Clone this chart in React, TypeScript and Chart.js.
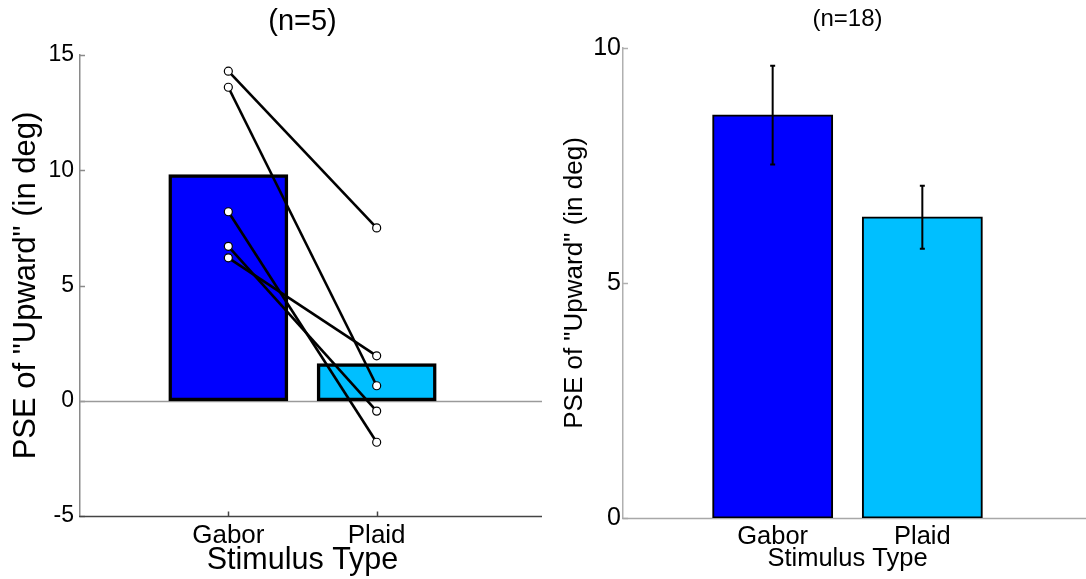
import React, { useEffect, useRef } from 'react';
import { Chart, registerables } from 'chart.js';

Chart.register(...registerables);

// ---------- data ----------
const categories = ['Gabor', 'Plaid'];
const leftTitle = '(n=5)';
const rightTitle = '(n=18)';
const yAxisTitle = 'PSE of "Upward" (in deg)';
const xAxisTitle = 'Stimulus Type';

const leftMeans = [9.8, 1.6];
const gaborSubjects = [14.3, 13.6, 8.2, 6.7, 6.2];
const plaidSubjects = [7.5, 0.65, -1.8, -0.45, 1.95];
const leftYRange = [-5, 15];
const leftYStep = 5;

const rightMeans = [8.57, 6.4];
const rightErrors = [1.05, 0.67];
const rightYRange = [0, 10];
const rightYStep = 5;

const barColors = ['#0000FF', '#00BFFF'];
const xRange = [0, 3];

const FONT = '"Liberation Sans", Arial, Helvetica, sans-serif';

// ---------- plugins ----------
function axisDecor(id: string, len: number, yColor: string, xColor: string, width: number, ext: number, zeroColor: string | null) {
  return {
    id,
    beforeDatasetsDraw(chart: any) {
      const { ctx, chartArea, scales } = chart;
      const x = scales.x;
      const y = scales.y;
      ctx.save();
      ctx.lineWidth = width;
      ctx.lineCap = 'butt';
      // inward y ticks
      ctx.strokeStyle = yColor;
      y.ticks.forEach((t: any) => {
        const py = Math.round(y.getPixelForValue(t.value)) + 0.5;
        ctx.beginPath();
        ctx.moveTo(chartArea.left, py);
        ctx.lineTo(chartArea.left + len, py);
        ctx.stroke();
      });
      // x axis line (extends slightly past the axes box) + inward x ticks
      ctx.strokeStyle = xColor;
      const by = Math.round(y.getPixelForValue(y.min)) + 0.5;
      ctx.beginPath();
      ctx.moveTo(chartArea.left - 1, by);
      ctx.lineTo(chartArea.right + ext, by);
      ctx.stroke();
      x.ticks.forEach((t: any) => {
        const px = Math.round(x.getPixelForValue(t.value)) + 0.5;
        ctx.beginPath();
        ctx.moveTo(px, by);
        ctx.lineTo(px, by - len);
        ctx.stroke();
      });
      // baseline (zero) line across the axes
      if (zeroColor) {
        const zy = Math.round(y.getPixelForValue(0)) + 0.5;
        ctx.strokeStyle = zeroColor;
        ctx.beginPath();
        ctx.moveTo(chartArea.left, zy);
        ctx.lineTo(chartArea.right + ext, zy);
        ctx.stroke();
      }
      ctx.restore();
    },
  };
}

const errorBars = {
  id: 'errorBars',
  afterDatasetsDraw(chart: any) {
    const { ctx, scales } = chart;
    const x = scales.x;
    const y = scales.y;
    ctx.save();
    ctx.strokeStyle = '#000';
    ctx.lineWidth = 2;
    rightMeans.forEach((m, i) => {
      const px = x.getPixelForValue(i + 1);
      const top = y.getPixelForValue(m + rightErrors[i]);
      const bot = y.getPixelForValue(m - rightErrors[i]);
      ctx.beginPath();
      ctx.moveTo(px, top);
      ctx.lineTo(px, bot);
      ctx.moveTo(px - 2.5, top);
      ctx.lineTo(px + 2.5, top);
      ctx.moveTo(px - 2.5, bot);
      ctx.lineTo(px + 2.5, bot);
      ctx.stroke();
    });
    ctx.restore();
  },
};

// ---------- chart builders ----------
function xScale(tickSize: number, tickPad: number, titleSize: number, titleBottomPad: number, height: number) {
  return {
    type: 'linear',
    min: xRange[0],
    max: xRange[1],
    offset: false,
    afterBuildTicks: (s: any) => {
      s.ticks = categories.map((_, i) => ({ value: i + 1 }));
    },
    afterFit: (s: any) => {
      s.height = height;
    },
    grid: { display: false, drawTicks: false, offset: false },
    border: { display: false },
    ticks: {
      autoSkip: false,
      maxRotation: 0,
      padding: tickPad,
      color: '#000',
      font: { family: FONT, size: tickSize },
      callback: (v: any) => categories[Number(v) - 1] ?? '',
    },
    title: {
      display: true,
      text: xAxisTitle,
      color: '#000',
      font: { family: FONT, size: titleSize },
      padding: { top: 0, bottom: titleBottomPad },
    },
  };
}

function yScale(range: number[], step: number, tickSize: number, tickPad: number, titleSize: number, titleTopPad: number, width: number, borderColor: string) {
  return {
    type: 'linear',
    min: range[0],
    max: range[1],
    afterFit: (s: any) => {
      s.width = width;
    },
    grid: { display: false, drawTicks: false },
    border: { display: true, color: borderColor, width: 1.5 },
    ticks: {
      stepSize: step,
      padding: tickPad,
      color: '#000',
      font: { family: FONT, size: tickSize },
    },
    title: {
      display: true,
      text: yAxisTitle,
      color: '#000',
      font: { family: FONT, size: titleSize },
      padding: { top: titleTopPad, bottom: 0 },
    },
  };
}

function LeftChart() {
  const ref = useRef<HTMLCanvasElement | null>(null);
  useEffect(() => {
    if (!ref.current) return;
    const lineSets = gaborSubjects.map((g, i) => ({
      type: 'line',
      data: [
        { x: 1, y: g },
        { x: 2, y: plaidSubjects[i] },
      ],
      borderColor: '#000',
      borderWidth: 2.6,
      pointRadius: 4,
      pointBackgroundColor: '#fff',
      pointBorderColor: '#000',
      pointBorderWidth: 1.2,
      fill: false,
      order: 0,
    }));
    const chart = new Chart(ref.current, {
      type: 'bar',
      data: {
        datasets: [
          {
            type: 'bar',
            data: leftMeans.map((m, i) => ({ x: i + 1, y: m })),
            backgroundColor: barColors,
            borderColor: '#000',
            borderWidth: 3.5,
            borderSkipped: false,
            inflateAmount: 0.6,
            categoryPercentage: 1,
            barPercentage: 0.8,
            order: 1,
          },
          ...lineSets,
        ] as any,
      },
      options: {
        responsive: false,
        animation: false,
        layout: { padding: { left: 0, right: 18, top: 0, bottom: 0 } },
        plugins: {
          legend: { display: false },
          tooltip: { enabled: false },
          title: {
            display: true,
            fullSize: false,
            text: leftTitle,
            color: '#000',
            font: { family: FONT, size: 29, weight: 'normal' },
            padding: { top: 5, bottom: 15.2 },
          },
        },
        scales: {
          x: xScale(26, 4, 30.5, 0, 63),
          y: yScale(leftYRange, leftYStep, 23, 6, 31, 7.7, 80, '#8a8a8a'),
        } as any,
      },
      plugins: [axisDecor('decorL', 5, '#8a8a8a', '#444', 1.5, 17, '#9a9a9a')],
    });
    return () => chart.destroy();
  }, []);
  return (
    <canvas
      ref={ref}
      width={543}
      height={579}
      style={{ position: 'absolute', left: 0, top: 0, width: 543, height: 579 }}
    />
  );
}

function RightChart() {
  const ref = useRef<HTMLCanvasElement | null>(null);
  useEffect(() => {
    if (!ref.current) return;
    const chart = new Chart(ref.current, {
      type: 'bar',
      data: {
        datasets: [
          {
            type: 'bar',
            data: rightMeans.map((m, i) => ({ x: i + 1, y: m })),
            backgroundColor: barColors,
            borderColor: '#000',
            borderWidth: 2,
            borderSkipped: false,
            inflateAmount: 0.6,
            categoryPercentage: 1,
            barPercentage: 0.8,
          },
        ] as any,
      },
      options: {
        responsive: false,
        animation: false,
        layout: { padding: { left: 0, right: 14, top: 0, bottom: 0 } },
        plugins: {
          legend: { display: false },
          tooltip: { enabled: false },
          title: {
            display: true,
            fullSize: false,
            text: rightTitle,
            color: '#000',
            font: { family: FONT, size: 24, weight: 'normal' },
            padding: { top: 4.6, bottom: 14.6 },
          },
        },
        scales: {
          x: xScale(25.5, 3.5, 25.5, 4.4, 61),
          y: yScale(rightYRange, rightYStep, 25, 2, 26, 16.4, 80, '#b0b0b0'),
        } as any,
      },
      plugins: [axisDecor('decorR', 5, '#b0b0b0', '#a8a8a8', 1.5, 14, null), errorBars],
    });
    return () => chart.destroy();
  }, []);
  return (
    <canvas
      ref={ref}
      width={543}
      height={579}
      style={{ position: 'absolute', left: 543, top: 0, width: 543, height: 579 }}
    />
  );
}

export default function App() {
  return (
    <div
      style={{
        position: 'fixed',
        left: 0,
        top: 0,
        width: 1086,
        height: 579,
        overflow: 'hidden',
        background: '#fff',
      }}
    >
      <LeftChart />
      <RightChart />
    </div>
  );
}
